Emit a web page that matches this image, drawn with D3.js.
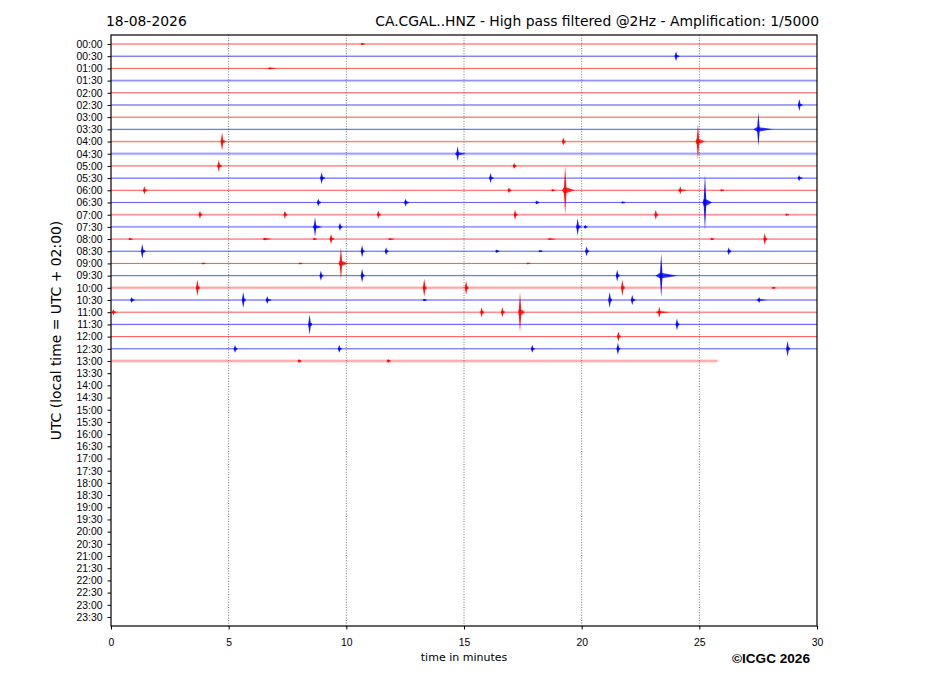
<!DOCTYPE html>
<html>
<head>
<meta charset="utf-8">
<script src="https://cdn.jsdelivr.net/npm/d3@7"></script>
<style>
  body { margin: 0; background: #fff; }
  svg { font-family: "DejaVu Sans", sans-serif; }
  .axis path, .axis line { stroke: #000; }
  .axis text { fill: #000; font-size: 10.4px; }
</style>
</head>
<body>
<svg width="927" height="696"></svg>
<script>
// half-hour row labels (one trace per row)
var rowLabels = [
  "00:00","00:30","01:00","01:30","02:00","02:30","03:00","03:30",
  "04:00","04:30","05:00","05:30","06:00","06:30","07:00","07:30",
  "08:00","08:30","09:00","09:30","10:00","10:30","11:00","11:30",
  "12:00","12:30","13:00","13:30","14:00","14:30","15:00","15:30",
  "16:00","16:30","17:00","17:30","18:00","18:30","19:00","19:30",
  "20:00","20:30","21:00","21:30","22:00","22:30","23:00","23:30"
];
var xTicks = [0, 5, 10, 15, 20, 25, 30];

// minute where each recorded trace ends (rows 00:00 .. 13:00)
var traceEnd = [30,30,30,30,30,30,30,30,30,30,30,30,30,30,30,30,30,30,30,30,30,30,30,30,30,30,25.78];

// background noise level of each trace (0 quiet .. 1 noisy)
var traceNoise = [0.2,0.2,0.2,0.8,0.2,0.2,0.2,0.3,0.6,0.9,0.2,0.3,0.3,0.3,0.7,0.6,0.3,0.3,0.2,0.3,0.9,0.4,0.3,0.3,0.2,0.3,1.0];

// events: [row, minute, peak amplitude (in row heights), coda length (min)]
var events = [
  [0, 10.67, 0.08, 0.1],
  [1, 24.01, 0.41, 0.15],
  [2, 6.76, 0.08, 0.3],
  [5, 29.25, 0.49, 0.15],
  [7, 27.51, 1.39, 0.6],
  [8, 4.72, 0.74, 0.15], [8, 19.22, 0.33, 0.1], [8, 24.94, 1.44, 0.3],
  [9, 14.73, 0.62, 0.35],
  [10, 4.58, 0.49, 0.15], [10, 17.13, 0.25, 0.1],
  [11, 8.95, 0.49, 0.15], [11, 16.13, 0.41, 0.15], [11, 29.24, 0.25, 0.15],
  [12, 1.42, 0.33, 0.15], [12, 16.91, 0.25, 0.1], [12, 18.77, 0.1, 0.1],
  [12, 19.3, 1.97, 0.4], [12, 24.19, 0.33, 0.3], [12, 25.95, 0.08, 0.1],
  [13, 8.81, 0.33, 0.1], [13, 12.52, 0.33, 0.15], [13, 18.09, 0.16, 0.1],
  [13, 21.74, 0.08, 0.1], [13, 25.24, 2.3, 0.3],
  [14, 3.78, 0.33, 0.1], [14, 7.39, 0.33, 0.1], [14, 11.36, 0.33, 0.1],
  [14, 17.17, 0.41, 0.1], [14, 23.15, 0.41, 0.1], [14, 28.71, 0.08, 0.1],
  [15, 8.67, 0.8, 0.3], [15, 9.73, 0.33, 0.1], [15, 19.83, 0.7, 0.15], [15, 20.15, 0.16, 0.1],
  [16, 0.81, 0.1, 0.1], [16, 6.54, 0.12, 0.3], [16, 8.64, 0.1, 0.1], [16, 9.35, 0.41, 0.15],
  [16, 11.86, 0.06, 0.2], [16, 18.65, 0.06, 0.3], [16, 25.53, 0.1, 0.1], [16, 27.78, 0.49, 0.1],
  [17, 1.33, 0.6, 0.15], [17, 10.67, 0.49, 0.1], [17, 11.69, 0.33, 0.1], [17, 16.39, 0.14, 0.1],
  [17, 18.23, 0.08, 0.1], [17, 20.21, 0.41, 0.1], [17, 26.25, 0.33, 0.1],
  [18, 3.91, 0.06, 0.1], [18, 8.03, 0.06, 0.1], [18, 9.77, 1.31, 0.3], [18, 17.71, 0.06, 0.1],
  [19, 8.92, 0.41, 0.1], [19, 10.67, 0.57, 0.1], [19, 21.51, 0.49, 0.1], [19, 23.38, 1.8, 0.7],
  [20, 3.67, 0.66, 0.1], [20, 13.31, 0.74, 0.1], [20, 15.09, 0.57, 0.1], [20, 21.73, 0.66, 0.1], [20, 28.14, 0.08, 0.1],
  [21, 0.88, 0.25, 0.15], [21, 5.62, 0.66, 0.1], [21, 6.64, 0.33, 0.2], [21, 13.31, 0.1, 0.1],
  [21, 21.19, 0.66, 0.1], [21, 22.15, 0.41, 0.15], [21, 27.54, 0.25, 0.35],
  [22, 0.1, 0.25, 0.15], [22, 15.75, 0.41, 0.1], [22, 16.63, 0.41, 0.1], [22, 17.38, 1.64, 0.2], [22, 23.3, 0.45, 0.45],
  [23, 8.44, 0.82, 0.1], [23, 24.05, 0.49, 0.1],
  [24, 21.56, 0.41, 0.1],
  [25, 5.27, 0.33, 0.1], [25, 9.7, 0.33, 0.1], [25, 17.9, 0.33, 0.1], [25, 21.54, 0.49, 0.1], [25, 28.75, 0.66, 0.1],
  [26, 7.99, 0.16, 0.1], [26, 11.78, 0.16, 0.1]
];

var svg = d3.select("svg");
var margin = { top: 35, right: 110, bottom: 70, left: 111 };
var width = +svg.attr("width");
var height = +svg.attr("height");

var xScale = d3.scaleLinear()
  .domain([0, 30])
  .range([margin.left, width - margin.right]);

var yScale = d3.scaleLinear()
  .domain([-0.74, 47.74])
  .range([margin.top, height - margin.bottom]);

var rowColor = i => i % 2 === 0 ? "#ff0000" : "#0000ff";

// vertical grid
svg.append("g")
  .selectAll("line")
  .data(xTicks.slice(1, -1))
  .join("line")
    .attr("x1", d => xScale(d)).attr("x2", d => xScale(d))
    .attr("y1", yScale.range()[0]).attr("y2", yScale.range()[1])
    .attr("stroke", "#555")
    .attr("stroke-width", 0.8)
    .attr("stroke-dasharray", "1,1.6");

// traces
var line = d3.line()
  .x(d => xScale(d[0]))
  .y(d => yScale(d[1]));

var traces = svg.append("g")
  .selectAll("g")
  .data(traceEnd)
  .join("g");

// noise band
traces.append("path")
  .attr("d", (d, i) => line([[0, i], [d, i]]))
  .attr("stroke", (d, i) => rowColor(i))
  .attr("stroke-width", (d, i) => 1 + 2.2 * traceNoise[i])
  .attr("stroke-opacity", (d, i) => 0.06 + 0.16 * traceNoise[i])
  .attr("fill", "none");

// trace centre line
traces.append("path")
  .attr("d", (d, i) => line([[0, i], [d, i]]))
  .attr("stroke", (d, i) => rowColor(i))
  .attr("stroke-width", 1)
  .attr("stroke-opacity", (d, i) => 0.72 - 0.5 * traceNoise[i])
  .attr("fill", "none");

// event shapes: a thin vertical spindle and a short horizontal coda
function spike(e) {
  var r = e[0], t = e[1], a = e[2];
  return line([
    [t, r - a], [t + 0.035, r - 0.4 * a], [t + 0.06, r], [t + 0.035, r + 0.4 * a],
    [t, r + a], [t - 0.035, r + 0.4 * a], [t - 0.06, r], [t - 0.035, r - 0.4 * a]
  ]) + "Z";
}
function coda(e) {
  var r = e[0], t = e[1], a = e[2], c = e[3];
  var h = Math.min(0.3, 0.06 + 0.1 * a);
  return line([
    [t - 0.35 * c, r], [t - 0.05, r - h], [t + 0.1, r - 0.8 * h], [t + c, r],
    [t + 0.1, r + 0.8 * h], [t - 0.05, r + h]
  ]) + "Z";
}

var eventGrp = svg.append("g")
  .selectAll("g")
  .data(events)
  .join("g")
    .attr("fill", d => rowColor(d[0]));

eventGrp.append("path")
  .attr("d", coda)
  .attr("fill-opacity", 0.8);

eventGrp.append("path")
  .attr("d", spike)
  .attr("fill-opacity", 0.9);

// axes
svg.append("g")
  .attr("class", "axis")
  .attr("transform", `translate(${margin.left},0)`)
  .call(d3.axisLeft(yScale)
    .tickValues(d3.range(rowLabels.length))
    .tickFormat(i => rowLabels[i])
    .tickSize(3.5)
    .tickPadding(5)
    .tickSizeOuter(0))
  .call(g => g.select(".domain").remove());

svg.append("g")
  .attr("class", "axis")
  .attr("transform", `translate(0,${height - margin.bottom})`)
  .call(d3.axisBottom(xScale)
    .tickValues(xTicks)
    .tickFormat(d3.format("d"))
    .tickSize(3.5)
    .tickPadding(9)
    .tickSizeOuter(0))
  .call(g => g.select(".domain").remove());

// frame
svg.append("rect")
  .attr("x", xScale(0))
  .attr("y", yScale.range()[0])
  .attr("width", xScale(30) - xScale(0))
  .attr("height", yScale.range()[1] - yScale.range()[0])
  .attr("fill", "none")
  .attr("stroke", "#000")
  .attr("stroke-width", 1.2);

// titles and labels
svg.append("text")
  .attr("x", 106).attr("y", 25.5)
  .style("font-size", "13.9px")
  .text("18-08-2026");

svg.append("text")
  .attr("x", 819).attr("y", 25.5)
  .attr("text-anchor", "end")
  .style("font-size", "13.9px")
  .text("CA.CGAL..HNZ - High pass filtered @2Hz - Amplification: 1/5000");

svg.append("text")
  .attr("transform", `translate(61,${(yScale.range()[0] + yScale.range()[1]) / 2}) rotate(-90)`)
  .attr("text-anchor", "middle")
  .style("font-size", "13.9px")
  .text("UTC (local time = UTC + 02:00)");

svg.append("text")
  .attr("x", (xScale(0) + xScale(30)) / 2).attr("y", 661)
  .attr("text-anchor", "middle")
  .style("font-size", "11px")
  .text("time in minutes");

svg.append("text")
  .attr("x", 810).attr("y", 663)
  .attr("text-anchor", "end")
  .style("font-family", "'Liberation Sans', Arial, sans-serif")
  .style("font-weight", "bold")
  .style("font-size", "13.6px")
  .text("©ICGC 2026");
</script>
</body>
</html>
